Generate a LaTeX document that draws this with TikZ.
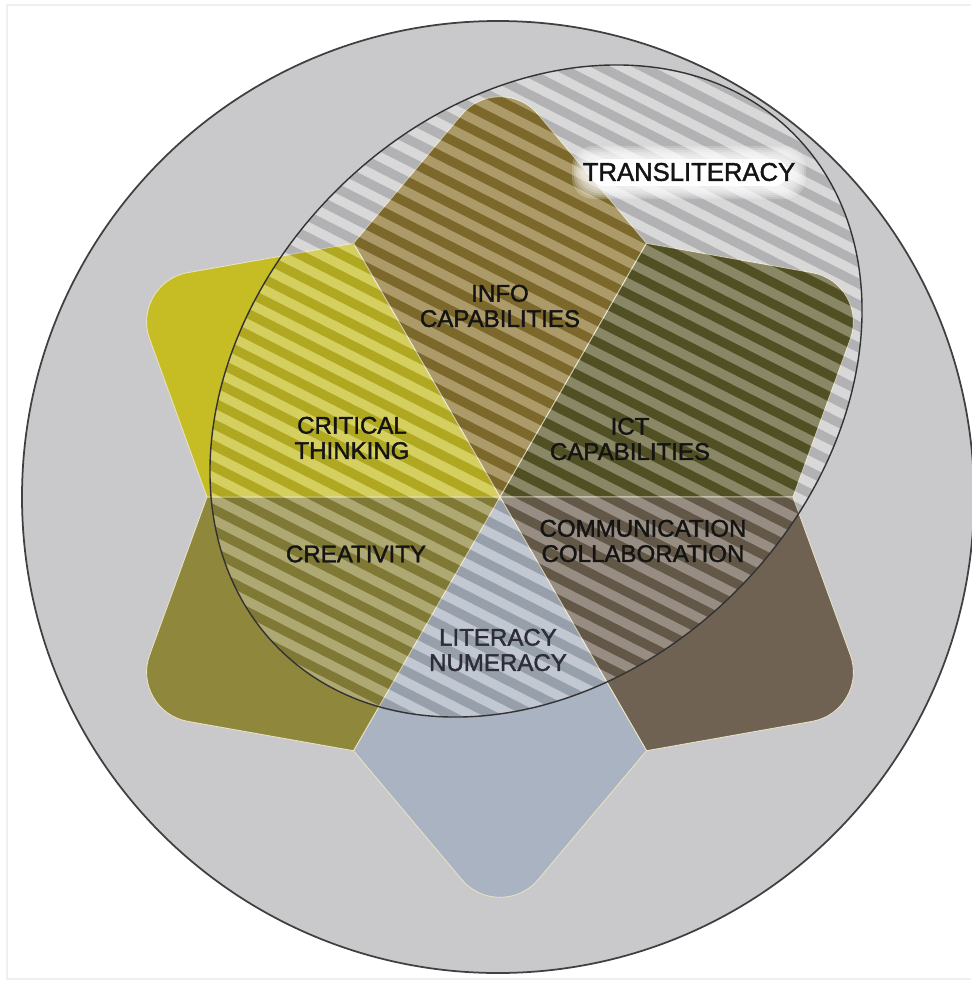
\documentclass[tikz,border=0pt]{standalone}
\usepackage{fontspec}
\setmainfont{Liberation Sans}
\newfontfamily\lblfont{Liberation Sans}[FakeBold=1.6]
\usepackage{xcolor}
\usetikzlibrary{calc}

\definecolor{bggrey}{RGB}{201,201,203}
\definecolor{critcol}{RGB}{198,189,36}
\definecolor{infocol}{RGB}{140,117,48}
\definecolor{ictcol}{RGB}{92,90,42}
\definecolor{commcol}{RGB}{112,98,82}
\definecolor{litcol}{RGB}{170,179,193}
\definecolor{creacol}{RGB}{143,136,60}
\definecolor{kiteedge}{RGB}{232,226,196}
\definecolor{littext}{RGB}{45,45,55}

\begin{document}
\begin{tikzpicture}[x=0.02cm,y=0.02cm,
		lbl/.style={align=center,font=\lblfont\fontsize{13.7}{14.4}\selectfont,text=black!92},
		kite/.style={draw=kiteedge,line width=0.5pt}]
				  \useasboundingbox (0,0) rectangle (971,-984);
				  \draw[gray!12,line width=0.8pt] (971,-5) -- (7,-5) -- (7,-979) -- (971,-979);
				  \coordinate (mid) at (498,-497);
				  \filldraw[fill=bggrey,draw=black!75,line width=1pt] (mid) circle (476);
				  \begin{scope}[shift={(500,-497)}]
				    \foreach \ang/\col in {90/infocol,30/ictcol,-30/commcol,-90/litcol,-150/creacol,150/critcol}
				      \filldraw[kite,fill=\col] (0,0) -- (\ang-30:293) -- ($(\ang:428)!0.26!(\ang-30:293)$)
				        .. controls ($(\ang:428)!0.125!(\ang-30:293)$) and ($(\ang:428)!0.125!(\ang+30:293)$)
				        .. ($(\ang:428)!0.26!(\ang+30:293)$) -- (\ang+30:293) -- cycle;
				  \end{scope}
				  \begin{scope}
				    \clip[shift={(536,-391)},rotate=45] (0,0) ellipse [x radius=364,y radius=283];
				    \begin{scope}[shift={(536,-391)},rotate=-27]
				      \foreach \k in {-20,...,20} {
				        \fill[white,opacity=0.28] (-450,\k*19) rectangle (450,\k*19+9.5);
				        \fill[black,opacity=0.11] (-450,\k*19+9.5) rectangle (450,\k*19+19);
				      }
				    \end{scope}
				  \end{scope}
				  \draw[black!80,line width=0.8pt,shift={(536,-391)},rotate=45] (0,0) ellipse [x radius=364,y radius=283];
				  \foreach \g in {0,2,...,10}
				    \fill[white,opacity=0.22,rounded corners=12pt] (582-\g,-156+\g) rectangle (796+\g,-189-\g);
				  \fill[white,rounded corners=8pt] (590,-159) rectangle (788,-186);
				  \node[lbl,font=\lblfont\fontsize{14.6}{16}\selectfont] (trans) at (689,-172) {TRANSLITERACY};
				  \node[lbl] (info) at (500,-306) {INFO\\CAPABILITIES};
				  \node[lbl] (crit) at (352,-438) {CRITICAL\\THINKING};
				  \node[lbl] (ict) at (630,-439) {ICT\\CAPABILITIES};
				  \node[lbl] (comm) at (643,-541) {COMMUNICATION\\COLLABORATION};
				  \node[lbl] (crea) at (356,-554) {CREATIVITY};
				  \node[lbl,text=littext] (lit) at (498,-650) {LITERACY\\NUMERACY};
\end{tikzpicture}
\end{document}
